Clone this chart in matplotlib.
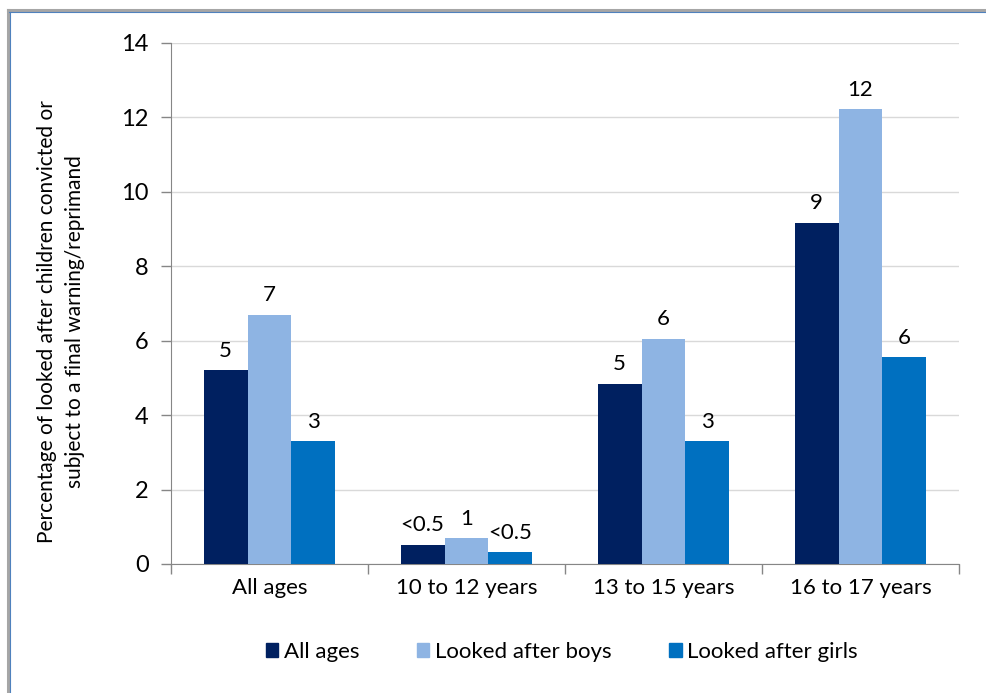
import matplotlib
matplotlib.use("Agg")
import matplotlib.pyplot as plt
from matplotlib.lines import Line2D
import numpy as np

plt.rcParams['font.family'] = ['Lato', 'DejaVu Sans']

categories = ["All ages", "10 to 12 years", "13 to 15 years", "16 to 17 years"]
series_names = ["All ages", "Looked after boys", "Looked after girls"]
all_ages = [5.2, 0.52, 4.83, 9.17]
boys = [6.7, 0.69, 6.04, 12.21]
girls = [3.29, 0.31, 3.29, 5.55]
labels_all = ["5", "<0.5", "5", "9"]
labels_boys = ["7", "1", "6", "12"]
labels_girls = ["3", "<0.5", "3", "6"]
colors = ["#002060", "#8EB4E3", "#0070C0"]

fig = plt.figure(figsize=(9.86, 6.93), dpi=100)
ax = fig.add_axes([171/986, 1-564/693, (959-171)/986, (564-42.7)/693])

x = np.arange(len(categories))
w = 0.223
series = [all_ages, boys, girls]
labels = [labels_all, labels_boys, labels_girls]
for i, (vals, labs, c) in enumerate(zip(series, labels, colors)):
    pos = x + (i - 1) * w
    bars = ax.bar(pos, vals, width=w, color=c, label=series_names[i], zorder=3)
    for b, lab in zip(bars, labs):
        ax.annotate(lab, (b.get_x() + b.get_width()/2, b.get_height()),
                    xytext=(0, 7), textcoords="offset points",
                    ha="center", va="bottom", fontsize=16, color="black")

ax.set_xlim(-0.5, len(categories) - 0.5)
ax.set_ylim(0, 14)
ax.set_yticks(np.arange(0, 15, 2))
ax.yaxis.grid(True, color="#d9d9d9", linewidth=1, zorder=0)
ax.set_axisbelow(True)
ax.set_xticks(x)
ax.set_xticklabels(categories, fontsize=16)
ax.set_xticks(np.arange(-0.5, len(categories), 1), minor=True)
ax.tick_params(axis="x", which="major", length=0, pad=10)
ax.tick_params(axis="x", which="minor", length=7, color="#868686", width=1)
ax.tick_params(axis="y", length=7, color="#868686", width=1, labelsize=17, pad=9)
for s in ["top", "right"]:
    ax.spines[s].set_visible(False)
ax.spines["left"].set_color("#868686")
ax.spines["bottom"].set_color("#868686")

ax.set_ylabel("Percentage of looked after children convicted or\nsubject to a final warning/reprimand",
              fontsize=15, linespacing=1.45, va="center")
ax.yaxis.set_label_coords((61-171)/788, (564-322)/(564-42.7))

handles = [plt.Rectangle((0, 0), 1, 1, color=c) for c in colors]
fig.legend(handles, series_names, loc="center", bbox_to_anchor=(562/986, 1-652/693),
           ncol=3, frameon=False, fontsize=16, handlelength=0.55, handleheight=0.55,
           handletextpad=0.25, columnspacing=2.6)

# outer frame lines (top and left)
fig.add_artist(Line2D([8/986, 1], [1-10/693, 1-10/693], color="#a6a6a6", linewidth=2.2, transform=fig.transFigure))
fig.add_artist(Line2D([8/986, 8/986], [0, 1-10/693], color="#a6a6a6", linewidth=2.2, transform=fig.transFigure))
fig.add_artist(Line2D([9/986, 1], [1-11.5/693, 1-11.5/693], color="#4f81bd", linewidth=0.8, transform=fig.transFigure))
fig.add_artist(Line2D([9.5/986, 9.5/986], [0, 1-11.5/693], color="#4f81bd", linewidth=0.8, transform=fig.transFigure))

fig.savefig("out.png", dpi=100)
